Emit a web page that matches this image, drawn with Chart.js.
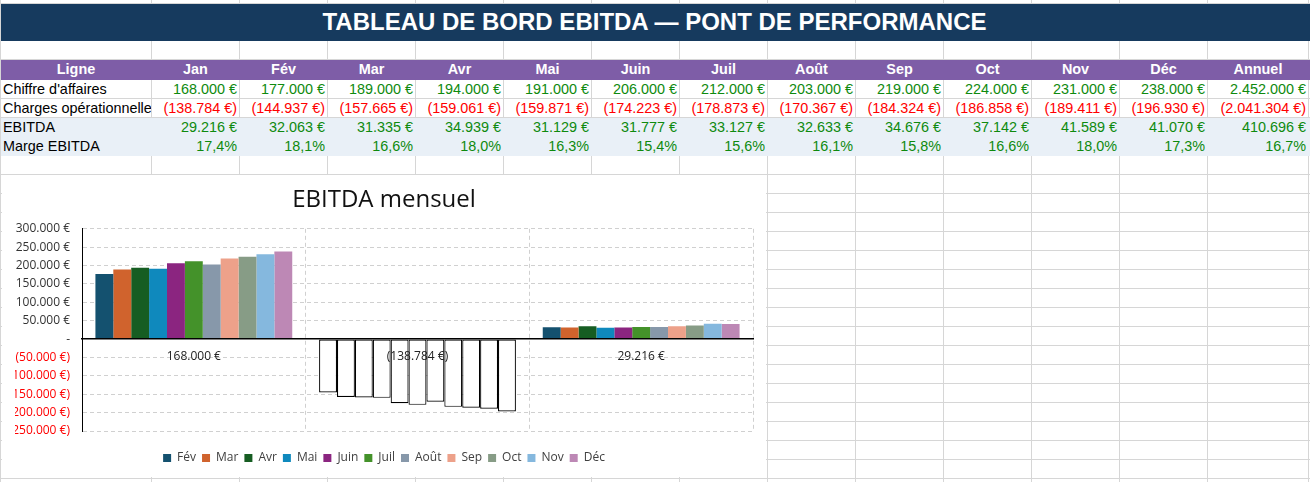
<!DOCTYPE html>
<html lang="fr">
<head>
<meta charset="utf-8">
<title>Tableau de bord EBITDA</title>
<script src="https://cdn.jsdelivr.net/npm/chart.js@4.4.0/dist/chart.umd.min.js"></script>
<style>
  html, body { margin: 0; padding: 0; background: #fff; overflow: hidden; }
  #sheet { position: relative; width: 1310px; height: 482px; overflow: hidden;
           font-family: 'Liberation Sans', Arial, sans-serif; font-size: 14.4px; }
  .cell { position: absolute; box-sizing: border-box; white-space: nowrap; overflow: hidden;
          border-right: 1px solid #d6d6d6; border-bottom: 1px solid #d6d6d6; padding: 0 2px; }
  #leftEdge { position: absolute; left: 0; top: 0; width: 1px; height: 482px; background: #d6d6d6; z-index: 6; }
  #chartBox { position: absolute; left: 2px; top: 175px; width: 764px; height: 302px; background: #fff; z-index: 5; }
</style>
</head>
<body>
<div id="sheet">
  <div id="leftEdge"></div>
  <div id="chartBox"><canvas id="ebitdaChart" width="764" height="302"></canvas></div>
</div>
<script>
// values read from the sheet
const mois = ['Jan', 'Fév', 'Mar', 'Avr', 'Mai', 'Juin', 'Juil', 'Août', 'Sep', 'Oct', 'Nov', 'Déc'];
const chiffreAffaires = [168000, 177000, 189000, 194000, 191000, 206000, 212000, 203000, 219000, 224000, 231000, 238000];
const charges = [-138784, -144937, -157665, -159061, -159871, -174223, -178873, -170367, -184324, -186858, -189411, -196930];
const ebitda = [29216, 32063, 31335, 34939, 31129, 31777, 33127, 32633, 34676, 37142, 41589, 41070];
const marge = [17.4, 18.1, 16.6, 18.0, 16.3, 15.4, 15.6, 16.1, 15.8, 16.6, 18.0, 17.3];
const annuel = [2452000, -2041304, 410696];
const margeAnnuelle = 16.7;
const lignes = ["Chiffre d'affaires", 'Charges opérationnelles', 'EBITDA', 'Marge EBITDA'];
const yTicks = { min: -250000, max: 300000, step: 50000 };

const couleurs = ['#14516F', '#D0632D', '#165D22', '#0F89BD', '#8B2580', '#44922A',
                  '#8798AA', '#EDA18A', '#879C86', '#85B8DE', '#BD88B5'];

const fmtMilliers = n => Math.round(Math.abs(n)).toString().replace(/\B(?=(\d{3})+(?!\d))/g, '.');
const fmtEuro = n => n < 0 ? '(' + fmtMilliers(n) + ' €)' : fmtMilliers(n) + ' €';
const fmtPct = p => p.toFixed(1).replace('.', ',') + '%';

// ---- spreadsheet grid ----
const sheet = document.getElementById('sheet');
const colWidths = [151, 88, 88, 88, 88, 88, 88, 88, 88, 88, 88, 88, 88, 101, 100];
const colLeft = [];
let acc = 1;
colWidths.forEach(w => { colLeft.push(acc); acc += w; });

const GREEN = '#0e8a0e';
const RED = '#ff0000';

let addCell = (top, h, col, span, text, css) => {
    const d = document.createElement('div');
    d.className = 'cell';
    let w = 0;
    for (let i = col; i < col + span; i++) w += colWidths[i];
    d.style.left = colLeft[col] + 'px';
    d.style.top = top + 'px';
    d.style.width = w + 'px';
    d.style.height = h + 'px';
    d.style.lineHeight = (h - 1) + 'px';
    Object.assign(d.style, css || {});
    if (text) d.textContent = text;
    sheet.appendChild(d);
};

let y = 0;
let blankRow = h => {
    colWidths.forEach((w, c) => addCell(y, h, c, 1));
    y += h;
};

blankRow(4);

// title band
const navy = '#163A5E';
addCell(y, 37, 0, 14, 'TABLEAU DE BORD EBITDA — PONT DE PERFORMANCE', {
    background: navy, borderColor: navy, color: '#fff', fontWeight: 'bold',
    fontSize: '24px', textAlign: 'center'
});
addCell(y, 37, 14, 1, '', { background: navy, borderColor: navy });
y += 37;

blankRow(19);

// header row
const purple = '#7E5DA7';
['Ligne', ...mois, 'Annuel', ''].forEach((t, c) => {
    addCell(y, 20, c, 1, t, { background: purple, borderColor: purple, color: '#fff',
                             fontWeight: 'bold', textAlign: 'center' });
});
y += 20;

const lignesValeurs = [
    chiffreAffaires.concat(annuel[0]),
    charges.concat(annuel[1]),
    ebitda.concat(annuel[2]),
    marge.concat(margeAnnuelle)
];
lignesValeurs.forEach((vals, r) => {
    const fill = r >= 2 ? { background: '#E9F0F7', borderColor: '#E9F0F7' } : {};
    addCell(y, 19, 0, 1, lignes[r], Object.assign({ color: '#000' }, fill));
    vals.forEach((v, k) => {
        const txt = r === 3 ? fmtPct(v) : fmtEuro(v);
        addCell(y, 19, k + 1, 1, txt, Object.assign({ textAlign: 'right', color: v < 0 ? RED : GREEN }, fill));
    });
    addCell(y, 19, 14, 1, '', fill);
    y += 19;
});

while (y < 482) blankRow(19);

// ---- chart ----
Chart.defaults.font.family = "'Open Sans', 'Noto Sans', sans-serif";

const categories = [fmtEuro(chiffreAffaires[0]), fmtEuro(charges[0]), fmtEuro(ebitda[0])];

const datasets = mois.slice(1).map((m, k) => {
    const i = k + 1;
    return {
        label: m,
        data: [chiffreAffaires[i], charges[i], ebitda[i]],
        backgroundColor: ctx => ctx.raw < 0 ? '#ffffff' : couleurs[k],
        borderColor: ctx => ctx.raw < 0 ? '#000000' : couleurs[k],
        borderWidth: ctx => ctx.raw < 0 ? 1.2 : 0,
        borderSkipped: false
    };
});

const gridColor = '#d0d0d0';
const ctx = document.getElementById('ebitdaChart').getContext('2d');
const ebitdaChart = new Chart(ctx, {
    type: 'bar',
    data: { labels: categories, datasets: datasets },
    options: {
        responsive: false,
        animation: false,
        events: [],
        layout: { padding: { left: 13, right: 13, top: 0, bottom: 3 } },
        datasets: { bar: { categoryPercentage: 0.88, barPercentage: 1 } },
        plugins: {
            title: {
                display: true,
                text: 'EBITDA mensuel',
                color: '#111',
                font: { size: 24, weight: 'normal' },
                padding: { top: 11, bottom: 14 }
            },
            legend: {
                position: 'bottom',
                // empty title only used as spacing above the items
                title: { display: true, text: ' ', font: { size: 10 }, padding: { top: 3, bottom: 0 } },
                labels: { boxWidth: 8, boxHeight: 8, padding: 6, color: '#404040', font: { size: 12 } }
            },
            tooltip: { enabled: false }
        },
        scales: {
            x: {
                position: { y: 0 },
                grid: {
                    offset: true,
                    drawTicks: false,
                    color: c => c.index === 0 ? 'rgba(0,0,0,0)' : gridColor
                },
                // zero line and category labels go over the bars
                border: { color: '#000', width: 1.5, dash: [4, 3], z: 1 },
                ticks: { z: 1, padding: 10, color: '#222', font: { size: 12 }, autoSkip: false, maxRotation: 0 }
            },
            y: {
                min: yTicks.min,
                max: yTicks.max,
                afterFit: s => { s.width = 67; },
                grid: {
                    drawTicks: false,
                    color: c => (c.tick && c.tick.value === 0) ? 'rgba(0,0,0,0)' : gridColor
                },
                border: { color: '#000', width: 1, dash: [4, 3] },
                ticks: {
                    stepSize: yTicks.step,
                    padding: 12,
                    font: { size: 12 },
                    color: c => c.tick.value < 0 ? RED : '#333',
                    callback: v => v === 0 ? '-' : fmtEuro(v)
                }
            }
        }
    }
});
</script>
</body>
</html>
